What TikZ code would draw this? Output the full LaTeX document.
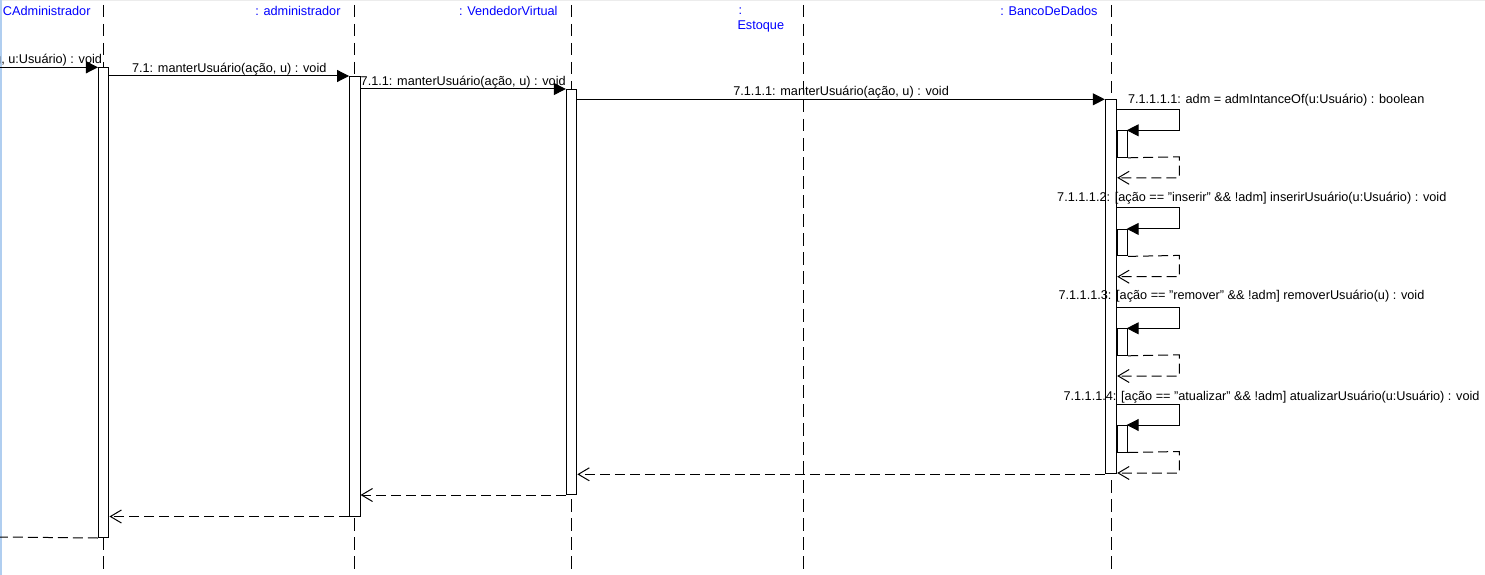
\documentclass[tikz,border=0pt]{standalone}
\usepackage{fontspec}
\setmainfont{Liberation Sans}
\usetikzlibrary{arrows.meta, calc, positioning}
\definecolor{hd}{RGB}{0, 0, 255}
\definecolor{edge}{RGB}{176, 206, 240}
\definecolor{rim}{RGB}{236, 236, 236}

\begin{document}
\begin{tikzpicture}[x=1pt, y=-1pt, line width=1pt,
    every node/.style={font=\fontsize{12.7}{14}\selectfont, inner sep=0pt},
    lifeline/.style={dash pattern=on 12.5pt off 6.5pt},
    act/.style={draw, fill=white, minimum width=10.5pt, anchor=north},
    subact/.style={draw, fill=white, minimum width=10pt, minimum height=26.5pt, anchor=north west},
    call/.style={-{Triangle[length=12pt, width=12pt]}},
    reply/.style={dash pattern=on 10pt off 5pt, -{Straight Barb[length=11pt, width=13pt]}},
    head/.style={text=hd, anchor=east}]

    % Picture frame (window edge on the left, thin rim on top)
    \useasboundingbox (0,0) rectangle (1485,575);
    \clip (0,0) rectangle (1485,575);
    \draw[rim, line width=1.5pt] (0,0.75) -- (1485,0.75);
    \draw[edge, line width=1.5pt] (0.75,0) -- (0.75,575);

    % Lifeline positions
    \def\xCAdm{103.7}
    \def\xAdm{354.8}
    \def\xVend{571.6}
    \def\xEst{803.3}
    \def\xBanco{1111}

    % Object headers
    \node[head] (hCAdm) at (91,10.5) {CAdministrador};
    \node[head] (hAdm) at (341,10.5) {: administrador};
    \node[head] (hVend) at (558,10.5) {: VendedorVirtual};
    \node[text=hd] (hEstA) at (740.5,10.7) {:};
    \node[text=hd, anchor=west] (hEstB) at (737,26) {Estoque};
    \node[head] (hBanco) at (1098,10.5) {: BancoDeDados};

    % Dashed lifelines
    \draw[lifeline] (\xCAdm,5) -- (\xCAdm,575);
    \draw[lifeline] (\xAdm,5) -- (\xAdm,575);
    \draw[lifeline] (\xVend,5) -- (\xVend,575);
    \draw[lifeline] (\xEst,5) -- (\xEst,575);
    \draw[lifeline] (\xBanco,5) -- (\xBanco,575);

    % Activation bars
    \node[act, minimum height=469.7pt] (aCAdm) at (\xCAdm,67.3) {};
    \node[act, minimum height=439.5pt] (aAdm) at (\xAdm,76) {};
    \node[act, minimum height=405pt] (aVend) at (\xVend,89) {};
    \node[act, minimum width=11.4pt, minimum height=374pt] (aBanco) at (\xBanco,99.3) {};

    % Incoming call from the left edge
    \coordinate (inL) at (0,67.3);
    \draw[call] (inL) -- (aCAdm.west |- inL);
    \node[anchor=east] (m0) at (102.5,60) {g, u:Usuário) : void};

    % Calls along the chain
    \draw[call] (aCAdm.east |- 0,76) -- (aAdm.west |- 0,76)
        node[midway, yshift=6.8pt] (m1) {7.1: manterUsuário(ação, u) : void};
    \draw[call] (aAdm.east |- 0,89) -- (aVend.west |- 0,89)
        node[midway, yshift=6.8pt] (m2) {7.1.1: manterUsuário(ação, u) : void};
    \draw[call] (aVend.east |- 0,99.3) -- (aBanco.west |- 0,99.3)
        node[midway, yshift=6.8pt] (m3) {7.1.1.1: manterUsuário(ação, u) : void};

    % Self call 7.1.1.1.1
    \node[anchor=west] (s1) at (1127.5,100) {7.1.1.1.1: adm = admIntanceOf(u:Usuário) : boolean};
    \draw[call] (aBanco.east |- 0,109.3) -- (1179.3,109.3) -- (1179.3,130.3) -- (1126.7,130.3);
    \node[subact] (b1) at (aBanco.east |- 0,130.3) {};
    \draw[reply] (b1.south east) -- (1179.3,156.8) -- (1179.3,177.8) -- (aBanco.east |- 0,177.8);

    % Self call 7.1.1.1.2
    \node[anchor=west] (s2) at (1056.7,198.5) {7.1.1.1.2: [ação == "inserir" \&\& !adm] inserirUsuário(u:Usuário) : void};
    \draw[call] (aBanco.east |- 0,207.7) -- (1179.3,207.7) -- (1179.3,228.9) -- (1126.7,228.9);
    \node[subact] (b2) at (aBanco.east |- 0,228.9) {};
    \draw[reply] (b2.south east) -- (1179.3,255.4) -- (1179.3,276.7) -- (aBanco.east |- 0,276.7);

    % Self call 7.1.1.1.3
    \node[anchor=west] (s3) at (1058,296) {7.1.1.1.3: [ação == "remover" \&\& !adm] removerUsuário(u) : void};
    \draw[call] (aBanco.east |- 0,307.7) -- (1179.3,307.7) -- (1179.3,328.3) -- (1126.7,328.3);
    \node[subact] (b3) at (aBanco.east |- 0,328.3) {};
    \draw[reply] (b3.south east) -- (1179.3,354.8) -- (1179.3,376) -- (aBanco.east |- 0,376);

    % Self call 7.1.1.1.4
    \node[anchor=west] (s4) at (1063,397.5) {7.1.1.1.4: [ação == "atualizar" \&\& !adm] atualizarUsuário(u:Usuário) : void};
    \draw[call] (aBanco.east |- 0,404.3) -- (1179.3,404.3) -- (1179.3,425) -- (1126.7,425);
    \node[subact] (b4) at (aBanco.east |- 0,425) {};
    \draw[reply] (b4.south east) -- (1179.3,451.5) -- (1179.3,473) -- (aBanco.east |- 0,473);

    % Returns back down the chain
    \draw[reply] (aBanco.south west) -- (aVend.east |- aBanco.south);
    \draw[reply] (aVend.south west) -- (aAdm.east |- aVend.south);
    \draw[reply] (aAdm.south west) -- (aCAdm.east |- aAdm.south);
    \coordinate (outL) at (0,537);
    \draw[dash pattern=on 10pt off 5pt] (aCAdm.south west) -- (outL);

\end{tikzpicture}
\end{document}
